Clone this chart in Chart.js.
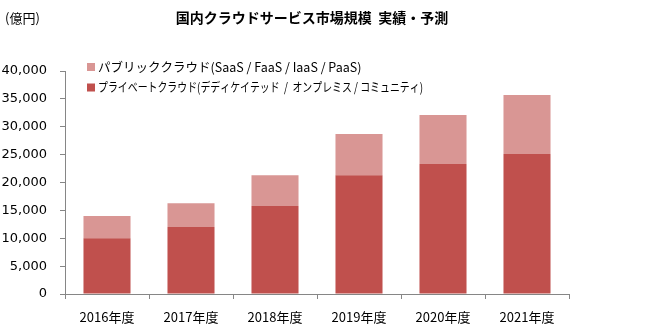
<!DOCTYPE html>
<html lang="ja">
<head>
    <meta charset="UTF-8">
    <title>国内クラウドサービス市場規模 実績・予測</title>
    <script src="https://cdn.jsdelivr.net/npm/chart.js"></script>
    <style>
        body { margin: 0; background: #fff; }
    </style>
</head>
<body>
    <canvas id="cloudChart" width="649" height="325"></canvas>

    <script>
        // データ(億円)
        const years = ['2016年度', '2017年度', '2018年度', '2019年度', '2020年度', '2021年度'];
        const privateCloud = [10000, 12000, 15800, 21300, 23300, 25100];
        const publicCloud = [4000, 4300, 5500, 7400, 8800, 10600];
        const yTickValues = [0, 5000, 10000, 15000, 20000, 25000, 30000, 35000, 40000];

        const privateLabel = 'プライベートクラウド(デディケイテッド  /  オンプレミス / コミュニティ)';
        const publicLabel = 'パブリッククラウド(SaaS / FaaS / IaaS / PaaS)';

        const jpFont = '"Noto Sans CJK JP", "Noto Sans", sans-serif';

        // タイトルと凡例を描く
        const headerPlugin = {
            id: 'header',
            afterDraw(chart) {
                const c = chart.ctx;
                c.save();
                c.fillStyle = '#000';
                c.textBaseline = 'middle';
                c.font = '13px ' + jpFont;
                c.textAlign = 'left';
                c.fillText('(億円)', 5, 18, 38);
                c.font = 'bold 14px ' + jpFont;
                c.textAlign = 'center';
                c.fillText('国内クラウドサービス市場規模  実績・予測', 312, 18);

                // 凡例(上がパブリック)。元図は字幅が狭いので maxWidth で詰める
                const items = [
                    { ds: chart.data.datasets[1], w: 264 },
                    { ds: chart.data.datasets[0], w: 325 }
                ];
                c.textAlign = 'left';
                c.font = '12.5px ' + jpFont;
                items.forEach((it, i) => {
                    const y = 67 + i * 20.5;
                    c.fillStyle = it.ds.backgroundColor;
                    c.fillRect(87, y - 4, 8, 8);
                    c.fillStyle = '#000';
                    c.fillText(it.ds.label, 98, y, it.w);
                });
                c.restore();
            }
        };

        const ctx = document.getElementById('cloudChart').getContext('2d');
        const cloudChart = new Chart(ctx, {
            type: 'bar',
            data: {
                labels: years,
                datasets: [{
                    label: privateLabel,
                    data: privateCloud,
                    backgroundColor: '#C0504D',
                    categoryPercentage: 1,
                    barPercentage: 0.56
                }, {
                    label: publicLabel,
                    data: publicCloud,
                    backgroundColor: '#D99694',
                    categoryPercentage: 1,
                    barPercentage: 0.56
                }]
            },
            options: {
                responsive: false,
                animation: false,
                layout: {
                    padding: { top: 71, right: 80, bottom: 0, left: 0 }
                },
                plugins: {
                    legend: { display: false },
                    title: { display: false },
                    tooltip: { enabled: false }
                },
                scales: {
                    x: {
                        stacked: true,
                        border: { color: '#868686' },
                        grid: {
                            offset: true,
                            drawOnChartArea: false,
                            color: '#868686',
                            tickLength: 5
                        },
                        ticks: {
                            color: '#000',
                            padding: 10,
                            font: { family: jpFont, size: 13 }
                        },
                        afterFit(scale) { scale.height = 31; }
                    },
                    y: {
                        stacked: true,
                        min: 0,
                        max: 40000,
                        afterBuildTicks(scale) {
                            scale.ticks = yTickValues.map(v => ({ value: v }));
                        },
                        border: { color: '#868686' },
                        grid: {
                            drawOnChartArea: false,
                            color: '#868686',
                            tickLength: 5
                        },
                        ticks: {
                            color: '#000',
                            padding: 13,
                            font: { family: '"DejaVu Sans", Verdana, sans-serif', size: 13 },
                            callback: v => v.toLocaleString('en-US')
                        },
                        afterFit(scale) { scale.width = 65; }
                    }
                }
            },
            plugins: [headerPlugin]
        });
    </script>
</body>
</html>
